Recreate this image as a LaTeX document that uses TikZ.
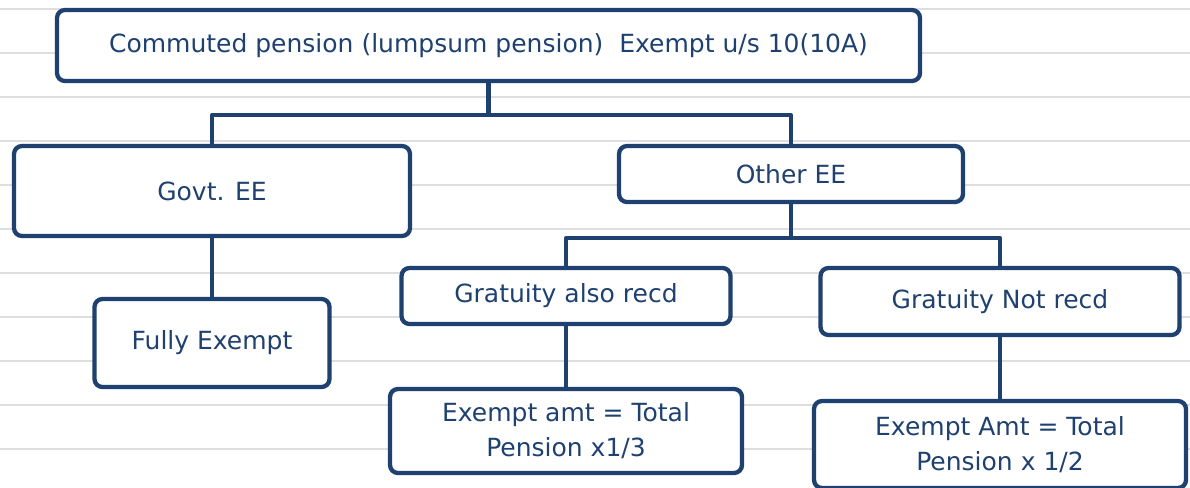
\documentclass[tikz,border=0pt]{standalone}
\usepackage{fontspec}
\setmainfont{DejaVu Sans}
\definecolor{inkblue}{HTML}{1F4170}
\definecolor{ruleline}{HTML}{DEDEDE}
\begin{document}
\begin{tikzpicture}[x=1pt,y=-1pt,
  box/.style={draw=inkblue, line width=4.3pt, rounded corners=8pt, fill=white,
    text=inkblue, align=center, inner sep=0pt,
    font=\fontsize{25}{35}\selectfont},
  link/.style={draw=inkblue, line width=4.3pt, line join=round}]
  \clip (0,0) rectangle (1190,487);
  \fill[white] (0,0) rectangle (1190,487);
  % notebook ruling
  \foreach \k in {0,...,10}
    \draw[ruleline, line width=1.6pt] (0,9+44*\k) -- (1190,9+44*\k);

  % boxes
  \node[box, minimum width=863pt, minimum height=71pt] (top) at (488.5,45.5)
    {Commuted pension (lumpsum pension)\ \ Exempt u/s 10(10A)};
  \node[box, minimum width=396pt, minimum height=90pt] (govt) at (212,191) {Govt. EE};
  \node[box, minimum width=344pt, minimum height=56pt] (other) at (791,174) {Other EE};
  \node[box, minimum width=235pt, minimum height=88pt] (fully) at (212,343) {Fully Exempt};
  \node[box, minimum width=329pt, minimum height=56pt] (gyes) at (566,296) {Gratuity also recd};
  \node[box, minimum width=359pt, minimum height=67pt] (gno) at (1000,301.5) {Gratuity Not recd};
  \node[box, minimum width=352pt, minimum height=84pt] (ayes) at (566,431)
    {Exempt amt = Total\\Pension x1/3};
  \node[box, minimum width=372pt, minimum height=87pt] (ano) at (1000,444.5)
    {Exempt Amt = Total\\Pension x 1/2};

  % connectors
  \draw[link] (top.south) -- ++(0,32) coordinate (j1);
  \draw[link] (govt.north) |- (j1) -| (other.north);
  \draw[link] (other.south) -- ++(0,34) coordinate (j2);
  \draw[link] (gyes.north) |- (j2) -| (gno.north);
  \draw[link] (govt.south) -- (fully.north);
  \draw[link] (gyes.south) -- (ayes.north);
  \draw[link] (gno.south) -- (ano.north);
\end{tikzpicture}
\end{document}
